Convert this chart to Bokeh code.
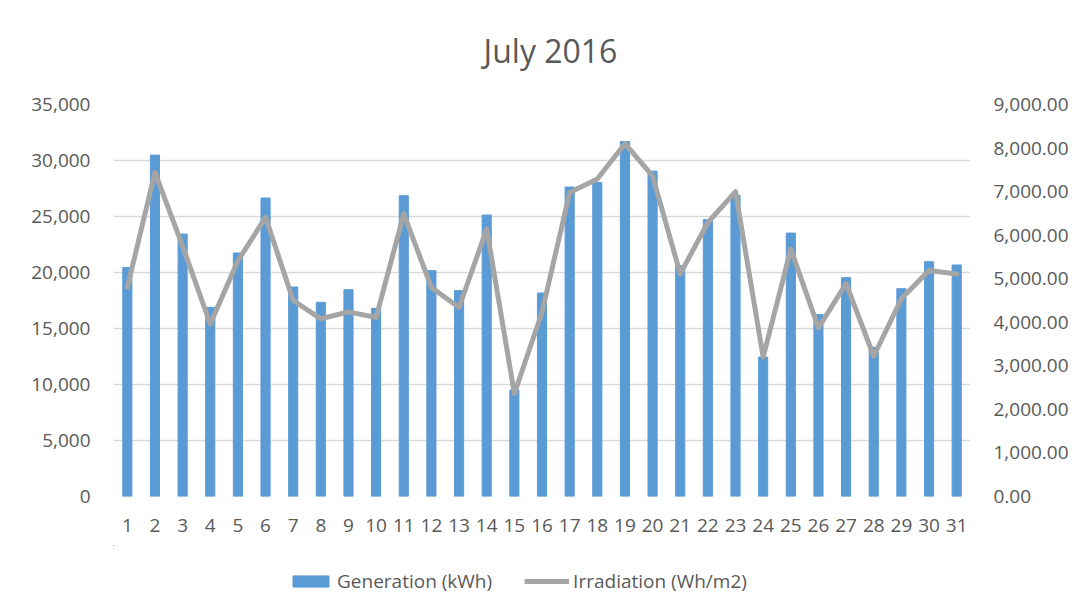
from bokeh.plotting import figure
from bokeh.layouts import column
from bokeh.models import (Range1d, LinearAxis, FixedTicker, NumeralTickFormatter,
                          Legend, LegendItem, Label, ColumnDataSource)
from bokeh.embed import file_html
from bokeh.resources import INLINE

days = list(range(1, 32))
generation = [20450, 30480, 23430, 16890, 21740, 26650, 18700, 17340, 18470, 16800,
              26850, 20160, 18380, 25130, 9500, 18170, 27630, 28040, 31700, 29050,
              20610, 24710, 26900, 12450, 23520, 16240, 19540, 13320, 18560, 20960, 20670]
irradiation = [4800, 7440, 5750, 3960, 5410, 6410, 4500, 4080, 4240, 4110,
               6490, 4800, 4340, 6140, 2360, 4230, 6980, 7290, 8100, 7360,
               5110, 6290, 7000, 3200, 5680, 3870, 4890, 3220, 4540, 5190, 5110]
left_ticks = [0, 5000, 10000, 15000, 20000, 25000, 30000, 35000]
right_ticks = [0, 1000, 2000, 3000, 4000, 5000, 6000, 7000, 8000, 9000]
series_names = ["Generation (kWh)", "Irradiation (Wh/m2)"]
chart_title = "July 2016"

FONT = "Open Sans"
TXT = "#595959"
GRID = "#D9D9D9"
BAR_C = "#5B9BD5"
LINE_C = "#A5A5A5"
W = 1080

src = ColumnDataSource(dict(day=days, gen=generation, irr=irradiation))


def bare_fig(h):
    # strip without axes; the column aligns its frame with the main chart's frame
    f = figure(width=W, height=h, output_backend="svg", toolbar_location=None,
               x_range=Range1d(1000, 1000 + W), y_range=Range1d(-2, -1), title=None,
               x_axis_location=None, y_axis_location=None,
               min_border_left=0, min_border_right=0, min_border_top=0,
               min_border_bottom=0, outline_line_color=None)
    f.xgrid.visible = False
    f.ygrid.visible = False
    return f


# ---- title strip
t = bare_fig(80)
t.add_layout(Label(x=437, y=30, x_units="screen", y_units="screen", text=chart_title,
                   text_font=FONT, text_font_size="32px", text_color=TXT,
                   text_align="center", text_baseline="middle"))

# ---- main chart
p = figure(width=W, height=465, output_backend="svg", toolbar_location=None,
           x_range=Range1d(0.5, 31.5), y_range=Range1d(0, 35000), title=None,
           min_border_left=113, min_border_right=110, min_border_top=24,
           min_border_bottom=49, outline_line_color=None)
p.extra_y_ranges = {"irr": Range1d(0, 9000)}

p.vbar(x="day", top="gen", width=0.33, source=src, color=BAR_C)
p.line(x="day", y="irr", source=src, y_range_name="irr",
       line_color=LINE_C, line_width=5, line_join="round", line_cap="round")

p.xgrid.grid_line_color = None
p.ygrid.grid_line_color = GRID
p.ygrid.grid_line_width = 1.3
p.ygrid.ticker = FixedTicker(ticks=left_ticks)


def style_axis(ax):
    ax.axis_line_color = None
    ax.major_tick_line_color = None
    ax.minor_tick_line_color = None
    ax.major_label_text_font = FONT
    ax.major_label_text_font_size = "19px"
    ax.major_label_text_color = TXT


ya = p.yaxis[0]
ya.ticker = FixedTicker(ticks=left_ticks)
ya.formatter = NumeralTickFormatter(format="0,0")
style_axis(ya)
ya.major_label_standoff = 17

xa = p.xaxis[0]
xa.ticker = FixedTicker(ticks=days)
style_axis(xa)
xa.major_label_standoff = 16

ra = LinearAxis(y_range_name="irr", ticker=FixedTicker(ticks=right_ticks),
                formatter=NumeralTickFormatter(format="0,0.00"))
style_axis(ra)
ra.major_label_standoff = 17
p.add_layout(ra, "right")

# ---- legend strip (series drawn again here only as legend swatches; the
# strip's ranges keep their marks out of view)
lg = bare_fig(65)
r_bar = lg.vbar(x="day", top="gen", width=0.33, source=src, color=BAR_C)
r_line = lg.line(x="day", y="irr", source=src, line_color=LINE_C, line_width=5)
legend = Legend(items=[LegendItem(label=series_names[0], renderers=[r_bar]),
                       LegendItem(label=series_names[1], renderers=[r_line])],
                orientation="horizontal", location=(175, 16),
                glyph_width=45, glyph_height=14, label_standoff=4, spacing=32,
                padding=0, margin=0, border_line_color=None, background_fill_alpha=0,
                label_text_font=FONT, label_text_font_size="19px", label_text_color=TXT)
lg.add_layout(legend, "center")

layout = column(t, p, lg, spacing=0)
open("out.html", "w").write(file_html(layout, INLINE))
